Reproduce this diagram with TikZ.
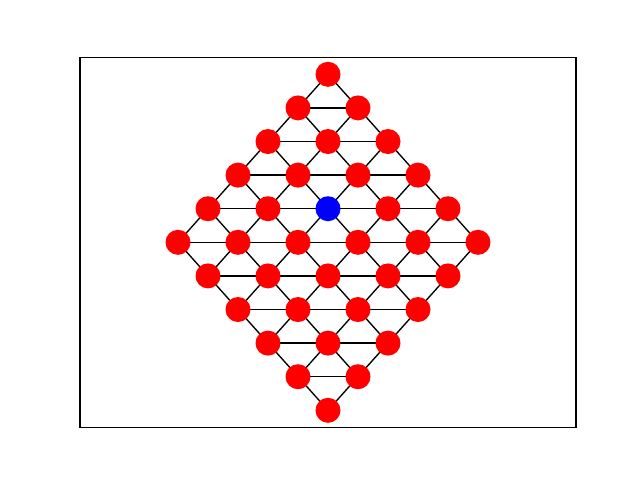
\documentclass[tikz,border=0pt]{standalone}
\pgfdeclarelayer{bg}
\pgfsetlayers{bg,main}
\tikzset{
  vtx/.style={circle, fill=red, draw=none, minimum size=25pt, inner sep=0pt},
  hub/.style={vtx, fill=blue},
  edge/.style={draw=black, line width=1.35pt},
  frame/.style={draw=black, line width=1.1pt}
}
\begin{document}
\begin{tikzpicture}[x=1pt, y=-1pt]
\useasboundingbox (0,0) rectangle (640,480);
\draw[frame] (80,57.6) rectangle (576,427.2);
\foreach \i in {0,...,5}{
  \foreach \j in {0,...,5}{
    \pgfmathsetmacro{\xx}{328+30*(\i-\j)}
    \pgfmathsetmacro{\yy}{74.3+33.6*(\i+\j)}
    \ifnum\i=2 \ifnum\j=2
      \node[hub] (n-\i-\j) at (\xx,\yy) {};
    \else
      \node[vtx] (n-\i-\j) at (\xx,\yy) {};
    \fi\else
      \node[vtx] (n-\i-\j) at (\xx,\yy) {};
    \fi
  }
}
\begin{pgfonlayer}{bg}
\foreach \i in {0,...,5}{
  \foreach \j in {0,...,5}{
    \pgfmathtruncatemacro{\ip}{\i+1}
    \pgfmathtruncatemacro{\jp}{\j+1}
    \pgfmathtruncatemacro{\jm}{\j-1}
    \ifnum\i<5 \draw[edge] (n-\i-\j.center) -- (n-\ip-\j.center); \fi
    \ifnum\j<5 \draw[edge] (n-\i-\j.center) -- (n-\i-\jp.center); \fi
    \ifnum\i<5 \ifnum\j>0 \draw[edge] (n-\i-\j.center) -- (n-\ip-\jm.center); \fi\fi
  }
}
\end{pgfonlayer}
\end{tikzpicture}
\end{document}
